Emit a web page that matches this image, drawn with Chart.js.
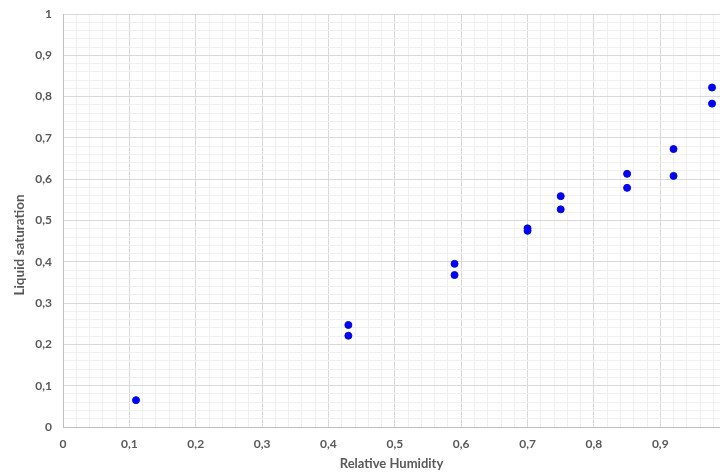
<!DOCTYPE html>
<html>
<head>
<meta charset="utf-8">
<script src="https://cdn.jsdelivr.net/npm/chart.js@4"></script>
<style>
  html, body { margin: 0; padding: 0; background: #fff; overflow: hidden; }
  #wrap { width: 720px; height: 472px; }
</style>
</head>
<body>
<div id="wrap"><canvas id="grafico"></canvas></div>
<script>
// humedad relativa vs saturacion
const humedad = [0.11, 0.43, 0.43, 0.59, 0.59, 0.70, 0.70, 0.75, 0.75, 0.85, 0.85, 0.92, 0.92, 0.978, 0.978];
const saturacion = [0.065, 0.247, 0.221, 0.395, 0.368, 0.481, 0.475, 0.559, 0.527, 0.613, 0.579, 0.673, 0.608, 0.822, 0.783];

const grisTexto = '#595959';
const fuente = 'Lato, "Open Sans", sans-serif';

const puntos = humedad.map((h, i) => ({ x: h, y: saturacion[i] }));

const esMayor = v => Math.round(v * 100) % 10 === 0;
const etiqueta = v => esMayor(v) ? String(Math.round(v * 10) / 10).replace('.', ',') : '';

const armarTicks = (hasta) => (scale) => {
    const ticks = [];
    for (let i = 0; i * 0.02 <= hasta + 1e-9; i++) {
        ticks.push({ value: Math.round(i * 2) / 100 });
    }
    scale.ticks = ticks;
};

const colorGrilla = ctx => {
    const v = ctx.tick ? ctx.tick.value : 0;
    return esMayor(v) ? '#d9d9d9' : '#f0f0f0';
};

// titulo del eje Y dibujado a mano (excel lo centra mas abajo)
const tituloY = {
    id: 'tituloY',
    afterDraw(chart) {
        const c = chart.ctx;
        c.save();
        c.translate(20, 245);
        c.rotate(-Math.PI / 2);
        c.fillStyle = grisTexto;
        c.font = 'bold 13.5px ' + fuente;
        c.textAlign = 'center';
        c.textBaseline = 'middle';
        c.fillText('Liquid saturation', 0, 0);
        c.restore();
    }
};

new Chart(document.getElementById('grafico'), {
    type: 'scatter',
    data: {
        datasets: [{
            data: puntos,
            backgroundColor: '#0000ff',
            borderColor: '#0000ff',
            pointRadius: 3.5,
            pointHoverRadius: 3.5
        }]
    },
    options: {
        responsive: true,
        maintainAspectRatio: false,
        animation: false,
        layout: { autoPadding: false, padding: { top: 14, right: 0, left: 0, bottom: 0 } },
        plugins: {
            legend: { display: false },
            tooltip: { enabled: false }
        },
        scales: {
            x: {
                type: 'linear',
                min: 0,
                max: 0.99,
                afterBuildTicks: armarTicks(0.98),
                afterFit: scale => {
                    scale.height = 45;
                    scale.paddingLeft = 0;
                    scale.paddingRight = 0;
                },
                border: { color: '#bfbfbf' },
                grid: { color: colorGrilla, drawTicks: false, lineWidth: 1 },
                ticks: {
                    autoSkip: false,
                    maxRotation: 0,
                    padding: 10,
                    color: grisTexto,
                    font: { family: fuente, size: 12, weight: 'bold' },
                    callback: v => etiqueta(v)
                },
                title: {
                    display: true,
                    text: 'Relative Humidity',
                    color: grisTexto,
                    font: { family: fuente, size: 13, weight: 'bold' },
                    padding: { top: 3, bottom: 0 }
                }
            },
            y: {
                type: 'linear',
                min: 0,
                max: 1,
                afterBuildTicks: armarTicks(1),
                afterFit: scale => {
                    scale.width = 63;
                    scale.paddingTop = 0;
                    scale.paddingBottom = 0;
                },
                border: { color: '#bfbfbf' },
                grid: { color: colorGrilla, drawTicks: false, lineWidth: 1 },
                ticks: {
                    autoSkip: false,
                    padding: 11,
                    color: grisTexto,
                    font: { family: fuente, size: 12, weight: 'bold' },
                    callback: v => etiqueta(v)
                }
            }
        }
    },
    plugins: [tituloY]
});
</script>
</body>
</html>
